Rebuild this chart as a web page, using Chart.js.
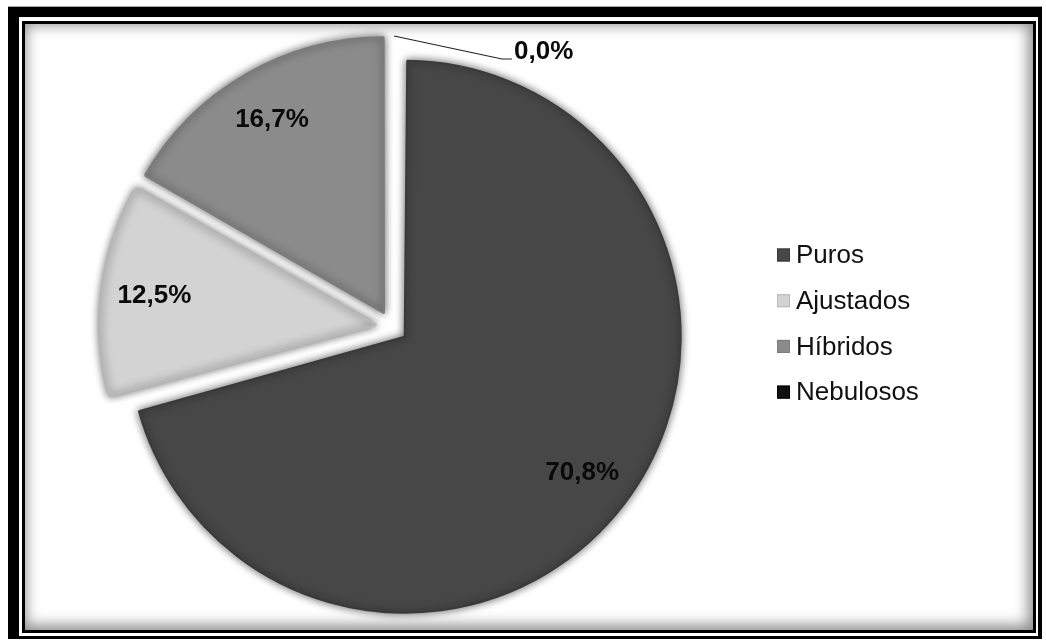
<!DOCTYPE html>
<html lang="pt">
<head>
<meta charset="utf-8">
<script src="https://cdn.jsdelivr.net/npm/chart.js@4.4.1/dist/chart.umd.min.js"></script>
<style>
    html, body { margin: 0; padding: 0; background: #fff; }
    body { width: 1046px; height: 643px; position: relative; overflow: hidden; font-family: Arial, "Liberation Sans", sans-serif; }
    #top-line { position: absolute; left: 8px; top: 6px; width: 1034px; height: 1px; background: #a8a8a8; }
    #outer-frame { position: absolute; left: 8px; top: 7px; width: 1034px; height: 632px; box-sizing: border-box;
        border-style: solid; border-color: #000; border-width: 10px 4px 3px 11px; }
    #inner-frame { position: absolute; left: 22px; top: 21px; width: 1014px; height: 612px; box-sizing: border-box;
        border: 3px solid #000; background: #fff; box-shadow: inset -2px -2px 14px 3px rgba(0, 0, 0, 0.45); }
    #chart { position: absolute; left: 0; top: 0; }
</style>
</head>
<body>
<div id="top-line"></div>
<div id="outer-frame"></div>
<div id="inner-frame"></div>
<canvas id="chart" width="1046" height="643"></canvas>
<script>
// Data
const categories = ['Puros', 'Ajustados', 'Híbridos', 'Nebulosos'];
const percentValues = [70.8, 12.5, 16.7, 0.0];
const sliceColors = ['#474747', '#d3d3d3', '#8b8b8b', '#101010'];
const edgeColors = ['#3a3a3a', '#b9b9b9', '#7c7c7c', '#000000'];

const PIE_RADIUS = 276;
const SLICE_OFFSET = 64; // Chart.js moves a slice by offset / 4

// Format a value like Excel with comma decimals
function formatPercent(v) {
    return v.toFixed(1).replace('.', ',') + '%';
}

// Keep every slice the same radius even when exploded
const equalRadiusPlugin = {
    id: 'equalRadius',
    afterDatasetsUpdate(chart) {
        const meta = chart.getDatasetMeta(0);
        meta.data.forEach(arc => {
            const off = (arc.options.offset || 0) / 4;
            const fix = 1 - Math.sin(Math.min(Math.PI, arc.circumference || 0));
            arc.outerRadius = PIE_RADIUS - off * fix;
        });
    }
};

// Soft shadow around the slices
const sliceShadowPlugin = {
    id: 'sliceShadow',
    beforeDatasetsDraw(chart) {
        const ctx = chart.ctx;
        ctx.save();
        ctx.shadowColor = 'rgba(0, 0, 0, 0.6)';
        ctx.shadowBlur = 8;
    },
    afterDatasetsDraw(chart) {
        chart.ctx.restore();
    }
};

// Percentage labels, with a leader line for empty slices
const sliceLabelsPlugin = {
    id: 'sliceLabels',
    afterDatasetsDraw(chart) {
        const ctx = chart.ctx;
        const meta = chart.getDatasetMeta(0);
        ctx.save();
        ctx.font = 'bold 26px Arial, "Liberation Sans", sans-serif';
        ctx.fillStyle = '#0a0a0a';
        meta.data.forEach((arc, i) => {
            const off = (arc.options.offset || 0) / 4;
            const text = formatPercent(percentValues[i]);
            const half = (arc.startAngle + arc.endAngle) / 2;
            if (percentValues[i] > 0) {
                const d = off + 0.81 * PIE_RADIUS;
                ctx.textAlign = 'center';
                ctx.textBaseline = 'middle';
                ctx.fillText(text, arc.x + Math.cos(half) * d, arc.y + Math.sin(half) * d);
            } else {
                // leader line out of the top of the pie
                const r = PIE_RADIUS + off;
                const sx = arc.x + Math.cos(half) * r;
                const sy = arc.y + Math.sin(half) * r;
                ctx.strokeStyle = '#222';
                ctx.lineWidth = 1.2;
                ctx.beginPath();
                ctx.moveTo(sx + 2, sy + 1);
                ctx.lineTo(sx + 110, sy + 24);
                ctx.lineTo(sx + 120, sy + 24);
                ctx.stroke();
                ctx.textAlign = 'left';
                ctx.textBaseline = 'middle';
                ctx.fillText(text, sx + 122, sy + 17);
            }
        });
        ctx.restore();
    }
};

// Legend on the right
const sideLegendPlugin = {
    id: 'sideLegend',
    afterDraw(chart) {
        const ctx = chart.ctx;
        const boxX = 777, textX = 796, firstY = 255, rowGap = 45.7, box = 13;
        ctx.save();
        ctx.font = '26px Arial, "Liberation Sans", sans-serif';
        ctx.textAlign = 'left';
        ctx.textBaseline = 'middle';
        categories.forEach((name, i) => {
            const y = firstY + i * rowGap;
            ctx.fillStyle = sliceColors[i];
            ctx.fillRect(boxX, y - box / 2, box, box);
            ctx.strokeStyle = edgeColors[i];
            ctx.lineWidth = 1;
            ctx.strokeRect(boxX + 0.5, y - box / 2 + 0.5, box - 1, box - 1);
            ctx.fillStyle = '#111';
            ctx.fillText(name, textX, y + 1);
        });
        ctx.restore();
    }
};

const pieChart = new Chart(document.getElementById('chart'), {
    type: 'pie',
    data: {
        labels: categories,
        datasets: [{
            data: percentValues,
            backgroundColor: sliceColors,
            borderColor: edgeColors,
            borderWidth: 2,
            offset: SLICE_OFFSET
        }]
    },
    options: {
        responsive: false,
        animation: false,
        radius: PIE_RADIUS,
        layout: {
            padding: { left: 0, right: 262, top: 11, bottom: 0 }
        },
        plugins: {
            legend: { display: false },
            title: { display: false },
            tooltip: { enabled: false }
        }
    },
    plugins: [equalRadiusPlugin, sliceShadowPlugin, sliceLabelsPlugin, sideLegendPlugin]
});
</script>
</body>
</html>
